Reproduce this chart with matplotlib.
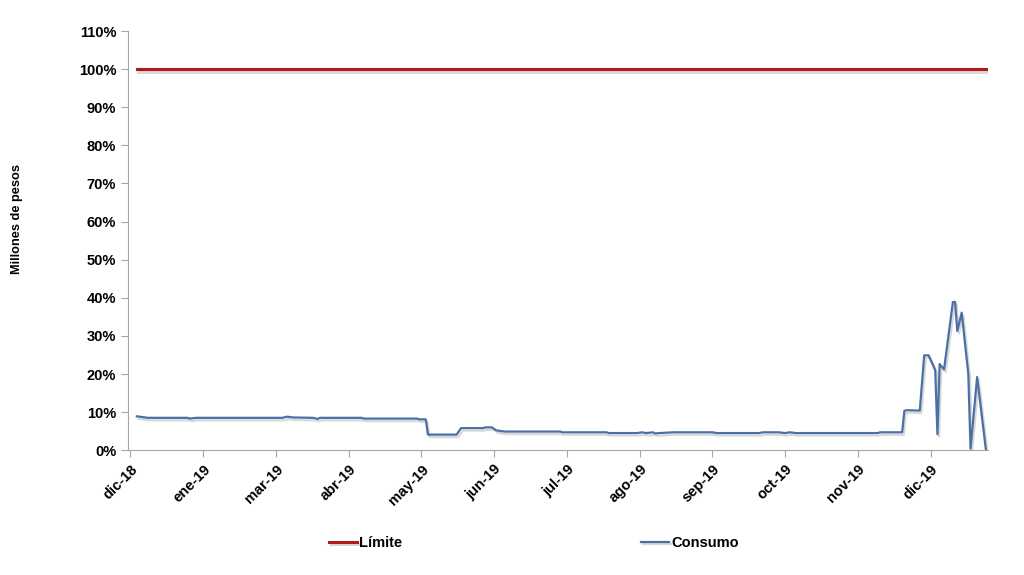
import numpy as np
import pandas as pd
import matplotlib
matplotlib.use('Agg')
import matplotlib.pyplot as plt
import matplotlib.patheffects as pe
import matplotlib.ticker as tick

plt.rcParams['font.family'] = ['Liberation Sans', 'DejaVu Sans']

# datos (fecha, % de consumo sobre el limite)
fechas = ['2019-01-01', '2019-01-06', '2019-01-24', '2019-01-25', '2019-01-28',
          '2019-03-08', '2019-03-10', '2019-03-13', '2019-03-22', '2019-03-24',
          '2019-03-25', '2019-04-13', '2019-04-14', '2019-05-08', '2019-05-09',
          '2019-05-12', '2019-05-13', '2019-05-26', '2019-05-28', '2019-06-07',
          '2019-06-08', '2019-06-11', '2019-06-13', '2019-06-17', '2019-07-12',
          '2019-07-13', '2019-08-02', '2019-08-03', '2019-08-16', '2019-08-18',
          '2019-08-20', '2019-08-23', '2019-08-24', '2019-08-26', '2019-09-01',
          '2019-09-19', '2019-09-21', '2019-10-10', '2019-10-12', '2019-10-19',
          '2019-10-22', '2019-10-24', '2019-10-27', '2019-12-03', '2019-12-04',
          '2019-12-14', '2019-12-15', '2019-12-16', '2019-12-22', '2019-12-24',
          '2019-12-26', '2019-12-29', '2019-12-30', '2019-12-31', '2020-01-02',
          '2020-01-06', '2020-01-07', '2020-01-08', '2020-01-10', '2020-01-13',
          '2020-01-14', '2020-01-17', '2020-01-21']
consumo = [8.9, 8.5, 8.5, 8.3, 8.5,
           8.5, 8.8, 8.6, 8.5, 8.2,
           8.5, 8.5, 8.3, 8.3, 8.1,
           8.1, 4.1, 4.1, 5.8, 5.8,
           6.0, 6.0, 5.2, 4.9, 4.9,
           4.7, 4.7, 4.5, 4.5, 4.7,
           4.5, 4.7, 4.4, 4.5, 4.7,
           4.7, 4.5, 4.5, 4.7, 4.7,
           4.5, 4.7, 4.5, 4.5, 4.7,
           4.7, 10.3, 10.5, 10.4, 24.9,
           24.9, 21.0, 4.2, 22.6, 21.2,
           38.9, 38.9, 31.3, 36.1, 20.0,
           0.4, 19.2, 0.0]
limite = 100.0

inicio_ticks = '2018-12-29'
etiquetas_x = ['dic-18', 'ene-19', 'mar-19', 'abr-19', 'may-19', 'jun-19',
               'jul-19', 'ago-19', 'sep-19', 'oct-19', 'nov-19', 'dic-19']

x = pd.to_datetime(fechas)
pos_ticks = pd.date_range(start=inicio_ticks, periods=len(etiquetas_x), freq='33D')

fig = plt.figure(figsize=(10.24, 5.75), dpi=100)
ax = fig.add_axes([0.125, 0.217, 0.84, 0.729])

sombra = [pe.SimpleLineShadow(offset=(1.2, -1.8), alpha=0.3, shadow_color='gray'), pe.Normal()]

ax.plot([pd.Timestamp('2019-01-01'), x[-1] + pd.Timedelta(days=1)], [limite, limite],
        color='#b2191b', lw=2.2, label='Límite', path_effects=sombra)
ax.plot(x, consumo, color='#4a70a6', lw=1.6, label='Consumo', path_effects=sombra)

ax.set_xlim(pd.Timestamp('2018-12-28'), pd.Timestamp('2020-01-22'))
ax.set_ylim(0, 110)
ax.set_yticks(np.arange(0, 111, 10))
ax.yaxis.set_major_formatter(tick.FuncFormatter(lambda v, p: '%d%%' % v))
ax.set_xticks(pos_ticks)
ax.set_xticklabels(etiquetas_x, rotation=45, ha='right', rotation_mode='anchor')

for s in ['top', 'right']:
    ax.spines[s].set_visible(False)
for s in ['left', 'bottom']:
    ax.spines[s].set_color('#a6a6a6')
ax.tick_params(axis='both', colors='#a6a6a6', labelcolor='black', length=5, labelsize=10.5)
for lab in ax.get_xticklabels() + ax.get_yticklabels():
    lab.set_fontweight('bold')

fig.text(0.017, 0.619, 'Millones de pesos', rotation=90, fontsize=9.2, fontweight='bold',
         ha='center', va='center')

leg = fig.legend(loc='center', ncol=2, bbox_to_anchor=(0.5215, 0.056), frameon=False,
                 columnspacing=16.4, handlelength=1.9, handletextpad=0.15,
                 prop={'weight': 'bold', 'size': 10.5})

fig.savefig('out.png', dpi=100)
